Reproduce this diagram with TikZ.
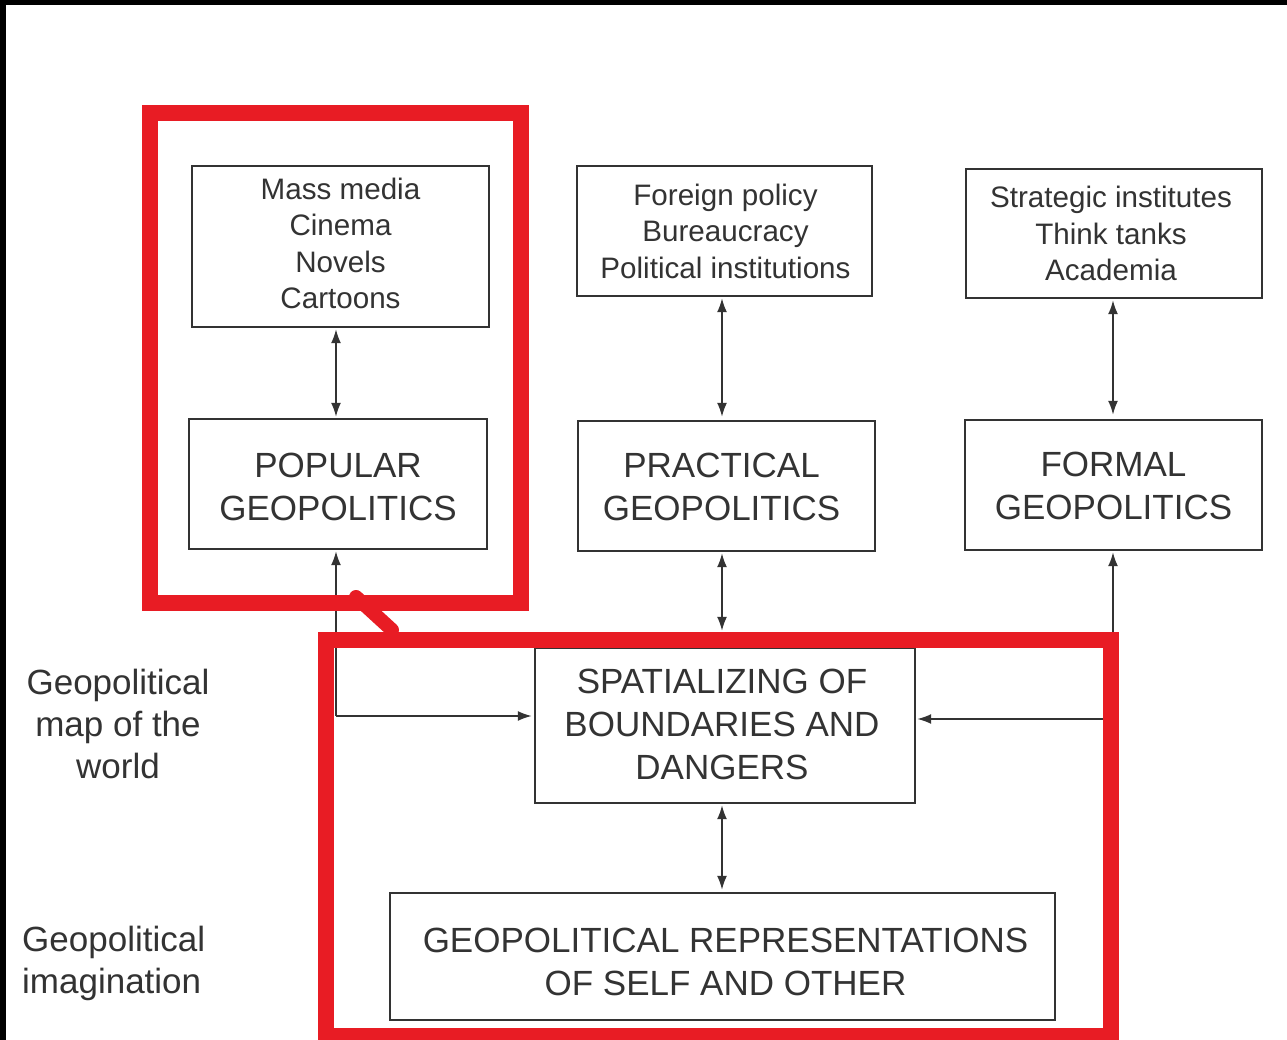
\documentclass[tikz,border=0pt]{standalone}
\usepackage{fontspec}
\setmainfont{Liberation Sans}
\usetikzlibrary{arrows.meta}
\definecolor{ink}{HTML}{333333}
\definecolor{hired}{RGB}{232,28,36}
\begin{document}
\begin{tikzpicture}[x=1pt,y=-1pt,
  frame/.style={draw=ink,line width=2.4pt,inner sep=0pt},
  smalltxt/.style={text=ink,align=center,inner sep=0pt,
     font=\fontsize{29.6}{36.5}\selectfont},
  bigtxt/.style={text=ink,align=center,inner sep=0pt,
     font=\fontsize{35}{43}\selectfont},
  lbl/.style={text=ink,inner sep=0pt,font=\fontsize{35}{42}\selectfont},
  conn/.style={draw=ink,line width=1.8pt},
  tip/.style={-{Latex[length=14pt,width=10pt]}},
  bitip/.style={{Latex[length=14pt,width=10pt]}-{Latex[length=14pt,width=10pt]}},
  hl/.style={draw=hired,line width=16.5pt}
]
\useasboundingbox (0,0) rectangle (1287,1040);
\fill[white] (0,0) rectangle (1287,1040);
\fill[black] (0,0) rectangle (1287,5);
\fill[black] (0,0) rectangle (6,1040);

% top boxes
\node[frame,minimum width=297pt,minimum height=161pt] (media) at (340.5,246.5) {};
\node[smalltxt,yshift=3pt] (mediat) at (media.center) {Mass media\\Cinema\\Novels\\Cartoons};
\node[frame,minimum width=295pt,minimum height=130pt] (foreign) at (724.5,231) {};
\node[smalltxt,xshift=1pt] (foreignt) at (foreign.center) {Foreign policy\\Bureaucracy\\Political institutions};
\node[frame,minimum width=296pt,minimum height=129pt] (strat) at (1114,233.5) {};
\node[smalltxt,xshift=-3pt] (stratt) at (strat.center) {Strategic institutes\\Think tanks\\Academia};

% middle boxes
\node[frame,minimum width=298pt,minimum height=130pt] (popular) at (338,484) {};
\node[bigtxt,yshift=-3pt] (populart) at (popular.center) {POPULAR\\GEOPOLITICS};
\node[frame,minimum width=297pt,minimum height=130pt] (practical) at (726.5,486) {};
\node[bigtxt,xshift=-5pt,yshift=-1pt] (practicalt) at (practical.center) {PRACTICAL\\GEOPOLITICS};
\node[frame,minimum width=297pt,minimum height=130pt] (formal) at (1113.5,485) {};
\node[bigtxt,yshift=-1pt] (formalt) at (formal.center) {FORMAL\\GEOPOLITICS};

% lower boxes
\node[frame,minimum width=380pt,minimum height=155pt] (spat) at (725,725.5) {};
\node[bigtxt,xshift=-3pt,yshift=1pt] (spatt) at (spat.center) {SPATIALIZING OF\\BOUNDARIES AND\\DANGERS};
\node[frame,minimum width=665pt,minimum height=127pt] (repr) at (722.5,956.5) {};
\node[bigtxt,yshift=-5pt,xshift=3pt] (reprt) at (repr.center) {GEOPOLITICAL REPRESENTATIONS\\OF SELF AND OTHER};

% side labels
\node[lbl,align=center] (lmap) at (118,724) {Geopolitical\\map of the\\world};
\node[lbl,align=left,anchor=west] (limag) at (22,963) {Geopolitical\\imagination};

% connectors
\draw[conn,bitip,shorten <=1pt,shorten >=1pt] (media.south -| 336,0) -- (popular.north -| 336,0);
\draw[conn,bitip,shorten <=1pt,shorten >=3pt] (foreign.south -| 722,0) -- (practical.north -| 722,0);
\draw[conn,bitip,shorten <=1pt,shorten >=4pt] (strat.south -| 1113,0) -- (formal.north -| 1113,0);
\draw[conn,bitip,shorten <=1pt,shorten >=16pt] (practical.south -| 722,0) -- (spat.north -| 722,0);
\draw[conn,bitip,shorten <=1pt,shorten >=2pt] (spat.south -| 722,0) -- (repr.north -| 722,0);

\coordinate (pj) at (336,716);
\draw[conn,tip,shorten >=1pt] (pj) -- (popular.south -| pj);
\draw[conn,tip,shorten >=2pt] (pj) -- (spat.west |- pj);
\coordinate (fj) at (1113,719);
\draw[conn,tip,shorten >=1pt] (fj) -- (formal.south -| fj);
\draw[conn,tip,shorten >=1pt] (fj) -- (spat.east |- fj);

% red highlights
\draw[hl,line join=miter] (150,113) rectangle (521,603);
\draw[hl,line join=miter] (326,640) rectangle (1111,1036);
\draw[draw=hired,line width=14pt,line cap=round] (356,597) -- (392,630);
\end{tikzpicture}
\end{document}
